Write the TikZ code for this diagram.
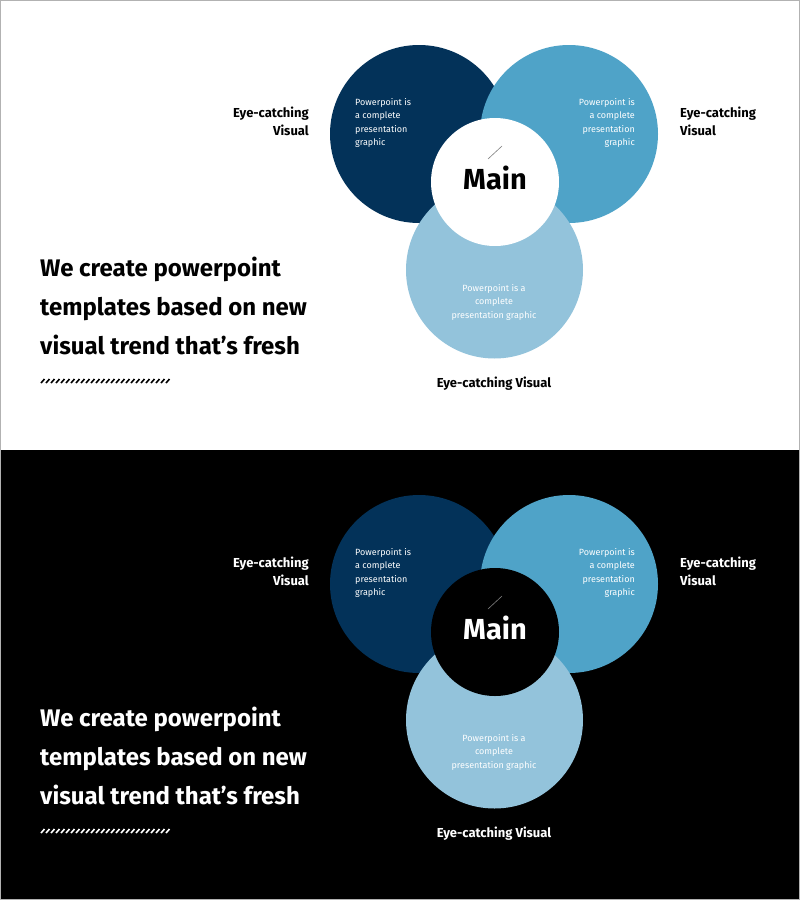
\documentclass[tikz,border=0pt]{standalone}
\usepackage{fontspec}
\setmainfont{Fira Sans}
\definecolor{cdark}{HTML}{033259}
\definecolor{cmid}{HTML}{4FA3C8}
\definecolor{clight}{HTML}{93C3DB}
\tikzset{
  x=1pt,y=-1pt,
  circ/.style={circle,draw=none,inner sep=0pt,minimum size=178pt},
  small/.style={font=\fontsize{9}{13.5}\selectfont,text=white,inner sep=0pt,align=#1},
  lab/.style={font=\fontsize{13}{18}\selectfont\bfseries,inner sep=0pt,align=#1},
  head/.style={font=\fontsize{24}{39}\selectfont\bfseries,inner sep=0pt,align=left,anchor=north west},
}
\newcommand\mypanel[4]{% #1 offset, #2 bg, #3 fg, #4 suffix
  \fill[#2] (0,#1) rectangle (800,#1+450);
  \node[circ,fill=cdark] (d#4) at (419,#1+134) {};
  \node[circ,fill=cmid] (m#4) at (569,#1+134) {};
  \node[circ,fill=clight,minimum size=177pt] (l#4) at (494.5,#1+270) {};
  \node[circle,fill=#2,inner sep=0pt,minimum size=128pt] (c#4) at (495,#1+182) {};
  \node[font=\fontsize{29}{30}\selectfont\bfseries,text=#3,inner sep=0pt] (t#4) at (495,#1+178) {Main};
  \coordinate (sa#4) at (488,#1+159);
  \coordinate (sb#4) at (502,#1+146);
  \draw[gray,line width=0.6pt] (sa#4) -- (sb#4);
  \node[small=left,anchor=north west] (dt#4) at (355,#1+98) {Powerpoint is\\a complete\\presentation\\graphic};
  \node[small=right,anchor=north east] (mt#4) at (635,#1+98) {Powerpoint is\\a complete\\presentation\\graphic};
  \node[small=center,anchor=north] (lt#4) at (494,#1+284) {Powerpoint is a\\complete\\presentation graphic};
  \node[lab=right,anchor=north east,text=#3] (ll#4) at (309,#1+107) {Eye-catching\\Visual};
  \node[lab=left,anchor=north west,text=#3] (rl#4) at (680,#1+107) {Eye-catching\\Visual};
  \node[lab=center,anchor=north,text=#3] (bl#4) at (494,#1+377) {Eye-catching Visual};
  \node[head,text=#3] (h#4) at (40,#1+257) {We create powerpoint\\templates based on new\\visual trend that’s fresh};
  \foreach \i in {0,...,25} {\draw[#3,line width=1.6pt] (41+5*\i,#1+383) -- (44.5+5*\i,#1+379);}
}
\begin{document}
\begin{tikzpicture}
\useasboundingbox (0,0) rectangle (800,900);
\mypanel{0}{white}{black}{a}
\mypanel{450}{black}{white}{b}
\draw[gray!60,line width=1pt] (0.5,0.5) rectangle (799.5,899.5);
\end{tikzpicture}
\end{document}
